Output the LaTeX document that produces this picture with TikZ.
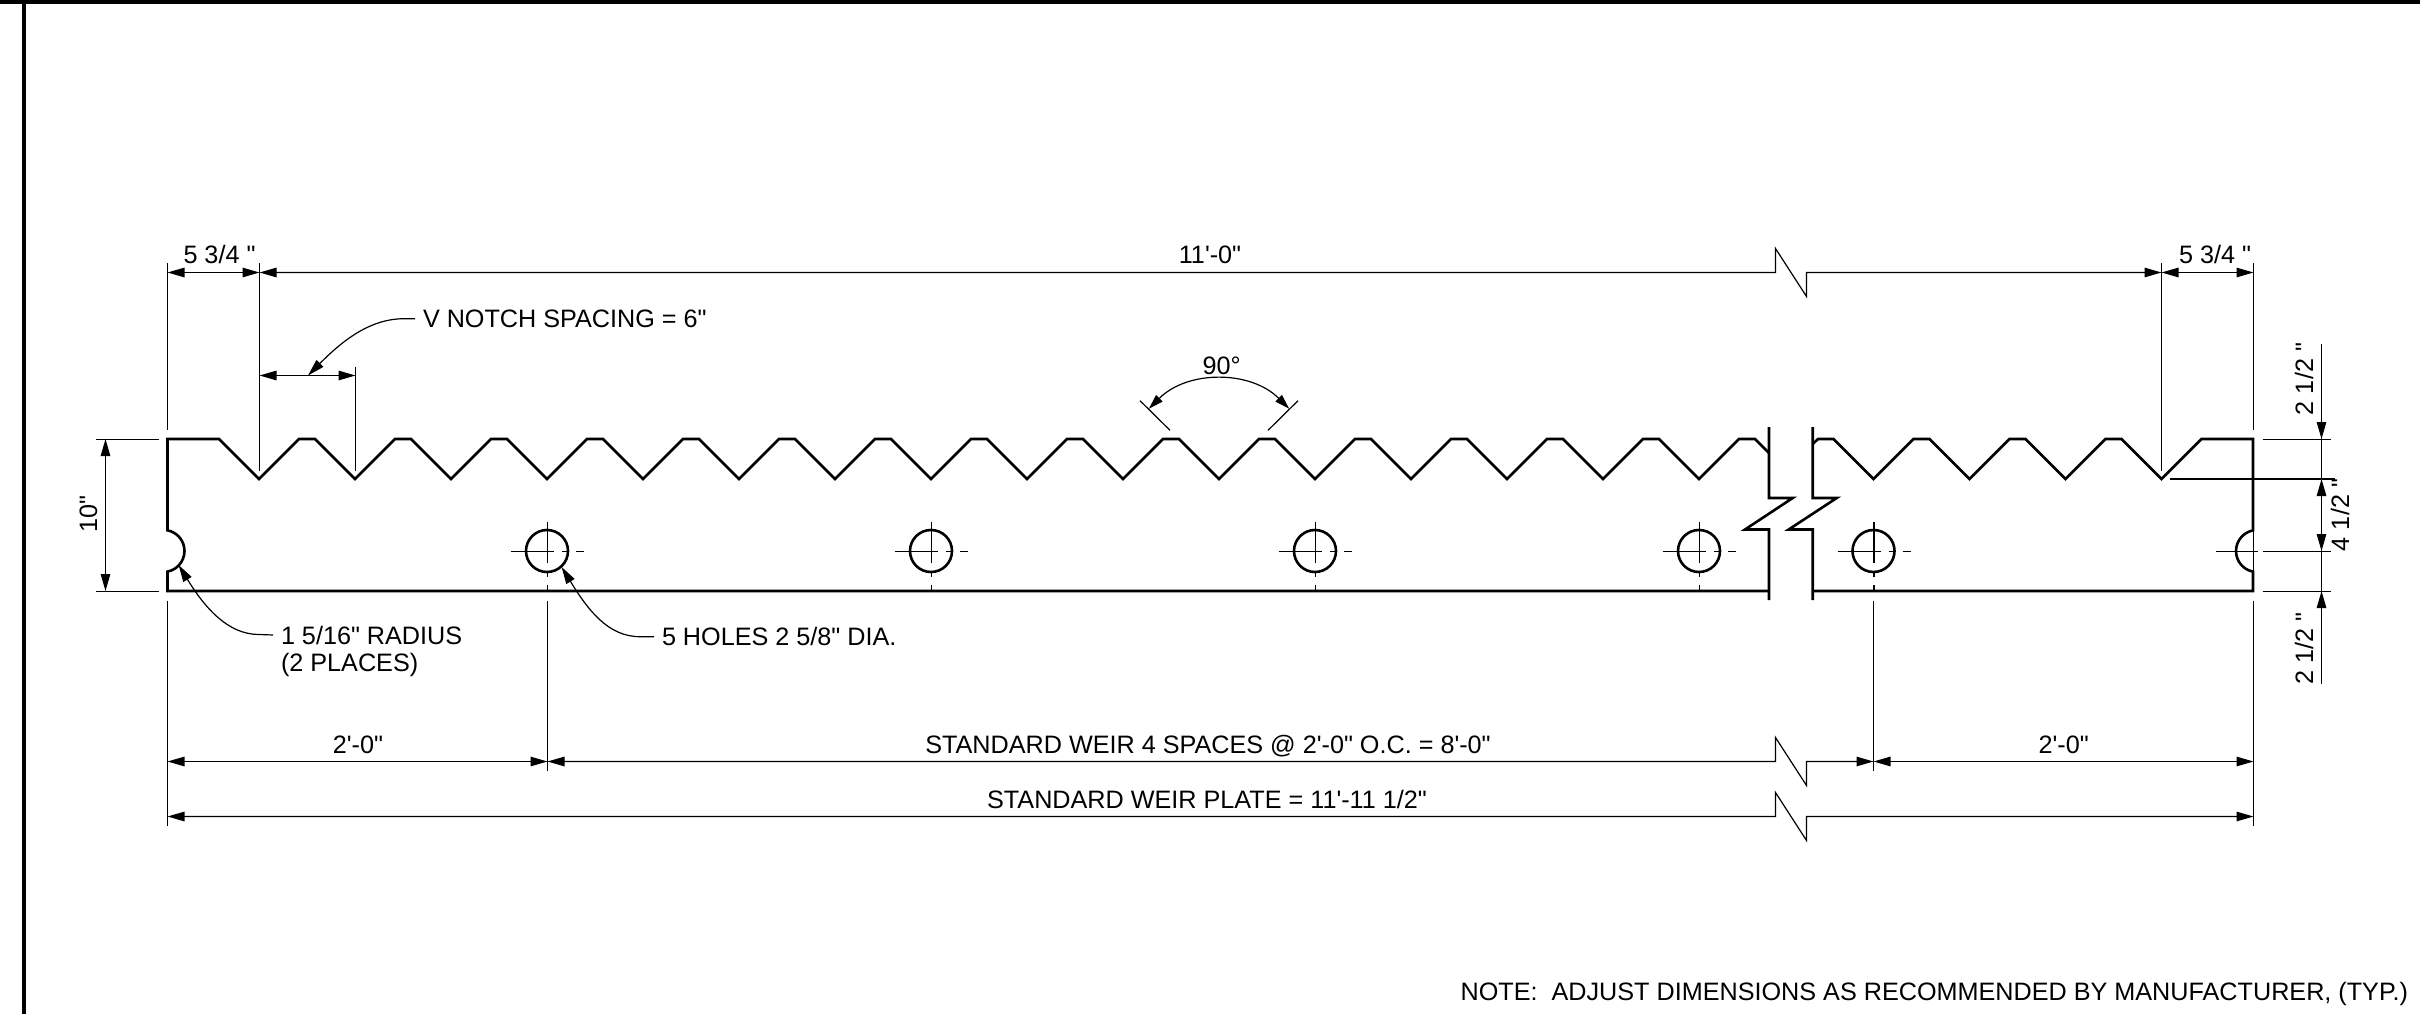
\documentclass[tikz,border=0pt]{standalone}
\usepackage{fontspec}
\newfontfamily\drawfont{Liberation Sans}
\usetikzlibrary{arrows.meta}
\tikzset{
  plate/.style={line width=2.6pt,line join=miter,black},
  thinline/.style={line width=1.2pt,black},
  dimline/.style={thinline,{Triangle[length=17pt,width=9.5pt]}-{Triangle[length=17pt,width=9.5pt]}},
  dimend/.style={thinline,-{Triangle[length=17pt,width=9.5pt]}},
  dimstart/.style={thinline,{Triangle[length=17pt,width=9.5pt]}-},
  centerln/.style={line width=1.1pt,black},
  border/.style={fill=black,draw=none},
  lab/.style={inner sep=0pt,outer sep=0pt,text height=18pt,text depth=0pt,font=\drawfont\fontsize{25.2}{30}\selectfont},
}
\newcommand{\breakpath}[1]{-- (1775.5,#1) -- (1775.5,#1-24) -- (1806.5,#1+24) -- (1806.5,#1)}
\begin{document}
\begin{tikzpicture}[x=1pt,y=-1pt]
\useasboundingbox (0,0) rectangle (2420,1014);
\fill[white] (0,0) rectangle (2420,1014);
% sheet border
\fill[border] (0,0) rectangle (2420,4);
\fill[border] (21.5,0) rectangle (26,1014);

% plate, left piece
\draw[plate] (1769,591) -- (167.5,591) -- (167.5,571.6)
  arc[start angle=-79,end angle=79,radius=21pt] -- (167.5,439) -- (219,439)
  \foreach \n in {259,355,...,1699} { -- (\n,479) -- (\n+40,439) -- (\n+56,439) }
  -- (1769,453);
% plate, right piece
\draw[plate] (1812.7,444) -- (1818,439) -- (1833.5,439)
  \foreach \n in {1873.5,1969.5,2065.5} { -- (\n,479) -- (\n+40,439) -- (\n+56,439) }
  -- (2161.5,479) -- (2201.5,439) -- (2253,439) -- (2253,530.4)
  arc[start angle=101,end angle=259,radius=21pt] -- (2253,591) -- (1812.7,591);
% break lines
\draw[plate] (1769,427) -- (1769,498) -- (1792.7,498) -- (1745,529.5) -- (1769,529.5) -- (1769,600);
\draw[plate] (1812.7,427) -- (1812.7,498) -- (1836.7,498) -- (1788.7,529.5) -- (1812.7,529.5) -- (1812.7,600);

% holes with centre lines
\foreach \cx in {547,931,1315,1699,1873.5} {
  \draw[plate] (\cx,551) circle[radius=21pt];
  \draw[centerln] (\cx-36,551.5) -- (\cx+7,551.5) (\cx+15,551.5) -- (\cx+22,551.5) (\cx+29,551.5) -- (\cx+37,551.5);
  \draw[centerln] (\cx+.5,522) -- (\cx+.5,563) (\cx+.5,573) -- (\cx+.5,577) (\cx+.5,585) -- (\cx+.5,590);
}
% centre line and chord of the right half notch
\draw[centerln] (2216,551.5) -- (2258,551.5);
\draw[centerln] (2253.5,530.4) -- (2253.5,571.6);

% extension lines
\draw[thinline] (167.5,263) -- (167.5,430);
\draw[thinline] (167.5,600.7) -- (167.5,825.7);
\draw[thinline] (259.5,263) -- (259.5,470.7);
\draw[thinline] (355.5,366.7) -- (355.5,470.7);
\draw[thinline] (2161.5,263) -- (2161.5,470.7);
\draw[thinline] (2253.5,263) -- (2253.5,430);
\draw[thinline] (2253.5,600.7) -- (2253.5,825.7);
\draw[thinline] (547.5,600.7) -- (547.5,770.7);
\draw[thinline] (1873.5,600.7) -- (1873.5,770.7);
\draw[thinline] (96,439.5) -- (158.5,439.5);
\draw[thinline] (96,591.5) -- (158.5,591.5);
\draw[thinline] (2262.5,439.5) -- (2331,439.5);
\draw[thinline] (2262.5,551.5) -- (2331,551.5);
\draw[thinline] (2262.5,591.5) -- (2331,591.5);
\draw[line width=1.6pt,black] (2169.6,479) -- (2335,479);

% top dimensions
\draw[dimline] (167.5,272.5) -- (259.5,272.5);
\draw[dimline] (259.5,272.5) \breakpath{272.5} -- (2161.5,272.5);
\draw[dimline] (2161.5,272.5) -- (2253.5,272.5);
\draw[dimline] (259.5,375.5) -- (355.5,375.5);
\node[lab] (d1) at (219.5,254) {5 3/4 "};
\node[lab] (d2) at (1210,254) {11'-0"};
\node[lab] (d3) at (2215,254) {5 3/4 "};

% V notch leader
\node[lab,anchor=west] (vnotch) at (423,318.7) {V NOTCH SPACING = 6"};
\draw[thinline,-{Triangle[length=17pt,width=9.5pt]}] ([xshift=-8pt]vnotch.west) -- (404,318.7)
  .. controls (372,318.7) and (345,338) .. (308,375.5);

% 90 degree
\draw[thinline] (1140,400.7) -- (1170,430.3);
\draw[thinline] (1298,400.7) -- (1268,430.3);
\draw[thinline,{Triangle[length=15pt,width=9pt]}-{Triangle[length=15pt,width=9pt]}] (1148.8,408.8) arc[start angle=135,end angle=45,radius=99.3pt];
\node[lab] (ang) at (1221.7,365.7) {90°};

% 10 inch
\draw[dimline] (105.5,439) -- (105.5,591);
\node[lab,rotate=90] (ten) at (88,514.5) {10"};

% right hand vertical dimensions
\draw[thinline] (2321.5,344) -- (2321.5,684);
\draw[dimend] (2321.5,400) -- (2321.5,439);
\draw[dimline] (2321.5,479) -- (2321.5,551);
\draw[dimstart] (2321.5,591) -- (2321.5,630);
\node[lab,rotate=90] (r1) at (2304,379) {2 1/2 "};
\node[lab,rotate=90] (r2) at (2340,515) {4 1/2 "};
\node[lab,rotate=90] (r3) at (2304,648.5) {2 1/2 "};

% leaders
\node[lab,anchor=west] (rad1) at (281,635) {1 5/16" RADIUS};
\node[lab,anchor=west] (rad2) at (281,662) {(2 PLACES)};
\draw[thinline,-{Triangle[length=17pt,width=9.5pt]}] ([xshift=-8pt]rad1.west) -- (259,634.5)
  .. controls (228,634.5) and (205,608) .. (178.6,565);
\node[lab,anchor=west] (holes) at (662,636.7) {5 HOLES 2 5/8" DIA.};
\draw[thinline,-{Triangle[length=17pt,width=9.5pt]}] ([xshift=-8pt]holes.west) -- (640,636.7)
  .. controls (608,636.7) and (588,610) .. (561.6,567);

% bottom dimensions
\draw[dimline] (167.5,761.5) -- (547.5,761.5);
\draw[dimline] (547.5,761.5) \breakpath{761.5} -- (1873.5,761.5);
\draw[dimline] (1873.5,761.5) -- (2253.5,761.5);
\draw[dimline] (167.5,816.5) \breakpath{816.5} -- (2253.5,816.5);
\node[lab] (b1) at (358,744) {2'-0"};
\node[lab] (b2) at (1208,744) {STANDARD WEIR 4 SPACES @ 2'-0" O.C. = 8'-0"};
\node[lab] (b3) at (2063.6,744) {2'-0"};
\node[lab] (b4) at (1207,799) {STANDARD WEIR PLATE = 11'-11 1/2"};

% note
\node[lab,anchor=east] (note) at (2408,991.7) {NOTE:\ \ ADJUST DIMENSIONS AS RECOMMENDED BY MANUFACTURER, (TYP.)};
\end{tikzpicture}
\end{document}
